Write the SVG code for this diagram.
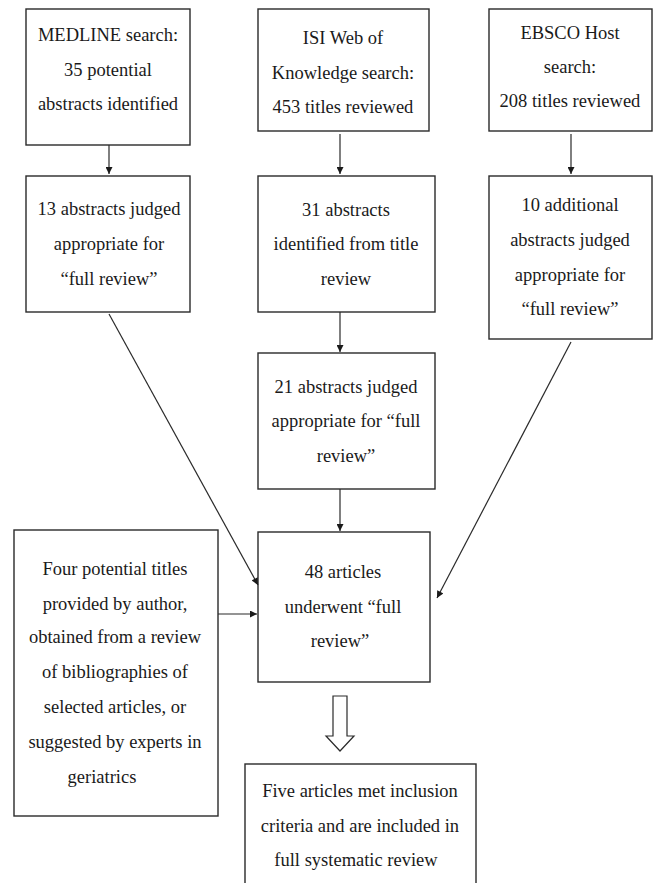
<svg xmlns="http://www.w3.org/2000/svg" width="654" height="883" viewBox="0 0 654 883">
<style>
rect.b{fill:#fff;stroke:#2a2a2a;stroke-width:1.4}
text{font-family:'Liberation Serif',Tinos,'Times New Roman','DejaVu Serif',serif;font-size:18.5px;fill:#1a1a1a;text-anchor:middle}
.c{stroke:#2a2a2a;stroke-width:1.2;fill:none}
</style>
<defs>
<marker id="ah" viewBox="0 0 8 8" refX="8" refY="4" markerWidth="8" markerHeight="7" markerUnits="userSpaceOnUse" orient="auto">
<path d="M0,0 L8,4 L0,8 z" fill="#1a1a1a"/>
</marker>
</defs>
<rect width="654" height="883" fill="#fff"/>
<g id="medline" font-family="Liberation Serif, serif">
<rect class="b" x="26" y="9" width="164" height="136"/>
<text x="108" y="41">MEDLINE search:</text>
<text x="108" y="76">35 potential</text>
<text x="108" y="110">abstracts identified</text>
</g>
<g id="isi">
<rect class="b" x="258" y="9" width="171" height="122"/>
<text x="343" y="44">ISI Web of</text>
<text x="343" y="79">Knowledge search:</text>
<text x="343" y="113">453 titles reviewed</text>
</g>
<g id="ebsco">
<rect class="b" x="489" y="9" width="163" height="122"/>
<text x="570" y="39">EBSCO Host</text>
<text x="570" y="73">search:</text>
<text x="570" y="107">208 titles reviewed</text>
</g>
<g id="medline13">
<rect class="b" x="26" y="176" width="164" height="136"/>
<text x="109" y="215">13 abstracts judged</text>
<text x="109" y="250">appropriate for</text>
<text x="109" y="285">“full review”</text>
</g>
<g id="isi31">
<rect class="b" x="258" y="176" width="177" height="136"/>
<text x="346" y="216">31 abstracts</text>
<text x="346" y="250">identified from title</text>
<text x="346" y="285">review</text>
</g>
<g id="ebsco10">
<rect class="b" x="489" y="176" width="163" height="163"/>
<text x="570" y="211">10 additional</text>
<text x="570" y="246">abstracts judged</text>
<text x="570" y="281">appropriate for</text>
<text x="570" y="315">“full review”</text>
</g>
<g id="isi21">
<rect class="b" x="258" y="353" width="177" height="136"/>
<text x="346" y="393">21 abstracts judged</text>
<text x="346" y="427">appropriate for “full</text>
<text x="346" y="462">review”</text>
</g>
<g id="other">
<rect class="b" x="14" y="530" width="204" height="286"/>
<text x="115" y="575">Four potential titles</text>
<text x="115" y="610">provided by author,</text>
<text x="115" y="643">obtained from a review</text>
<text x="115" y="678">of bibliographies of</text>
<text x="115" y="713">selected articles, or</text>
<text x="115" y="748">suggested by experts in</text>
<text x="102" y="783">geriatrics</text>
</g>
<g id="full48">
<rect class="b" x="258" y="532" width="172" height="150"/>
<text x="343" y="578">48 articles</text>
<text x="343" y="613">underwent “full</text>
<text x="340" y="647">review”</text>
</g>
<g id="final">
<rect class="b" x="245" y="764" width="231" height="130"/>
<text x="360" y="797">Five articles met inclusion</text>
<text x="360" y="832">criteria and are included in</text>
<text x="356" y="866">full systematic review</text>
</g>
<g id="connectors">
<line class="c" x1="109" y1="145" x2="109" y2="174" marker-end="url(#ah)"/>
<line class="c" x1="340" y1="134" x2="340" y2="174" marker-end="url(#ah)"/>
<line class="c" x1="571" y1="134" x2="571" y2="174" marker-end="url(#ah)"/>
<line class="c" x1="340" y1="312" x2="340" y2="352" marker-end="url(#ah)"/>
<line class="c" x1="340" y1="489" x2="340" y2="531" marker-end="url(#ah)"/>
<line class="c" x1="109" y1="314" x2="258" y2="585" marker-end="url(#ah)"/>
<line class="c" x1="571" y1="342" x2="437" y2="598" marker-end="url(#ah)"/>
<line class="c" x1="218" y1="614" x2="257" y2="614" marker-end="url(#ah)"/>
<polygon points="333,696 347,696 347,736 354,736 340,751 326,736 333,736" fill="#fff" stroke="#2a2a2a" stroke-width="1.2"/>
</g>
</svg>
